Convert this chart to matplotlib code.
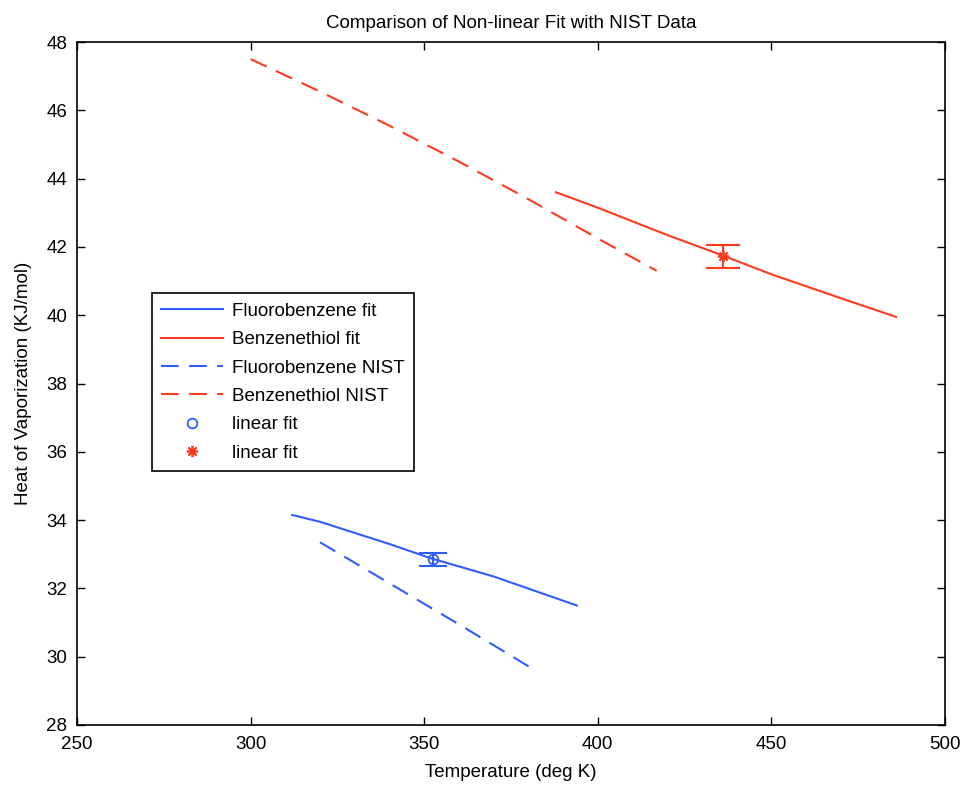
import numpy as np
import matplotlib
matplotlib.use("Agg")
import matplotlib.pyplot as plt

plt.rcParams['font.family'] = ['Liberation Sans', 'DejaVu Sans']

# --- data ---
fluoro_fit_T = [312, 320, 340, 352, 370, 394]
fluoro_fit_H = [34.15, 33.95, 33.3, 32.88, 32.35, 31.5]

benz_fit_T = [388, 400, 420, 436, 450, 470, 486]
benz_fit_H = [43.6, 43.15, 42.35, 41.75, 41.2, 40.5, 39.95]

fluoro_nist_T = [320, 340, 360, 382]
fluoro_nist_H = [33.35, 32.15, 30.95, 29.6]

benz_nist_T = [300, 320, 340, 360, 380, 400, 417]
benz_nist_H = [47.5, 46.55, 45.55, 44.5, 43.4, 42.25, 41.3]

fluoro_lin_T, fluoro_lin_H, fluoro_lin_err = 352.5, 32.85, 0.2
benz_lin_T, benz_lin_H, benz_lin_err = 436, 41.72, 0.33

BLUE = '#2f5cff'
RED = '#ff3a1f'
FS = 13.5

fig = plt.figure(figsize=(9.63, 7.87), dpi=100)
ax = fig.add_axes([0.080, 0.0788, 0.901, 0.8678])

ax.plot(fluoro_fit_T, fluoro_fit_H, '-', color=BLUE, lw=1.5, label='Fluorobenzene fit')
ax.plot(benz_fit_T, benz_fit_H, '-', color=RED, lw=1.5, label='Benzenethiol fit')
ax.plot(fluoro_nist_T, fluoro_nist_H, '--', color=BLUE, lw=1.5, dashes=(8.5, 5), label='Fluorobenzene NIST')
ax.plot(benz_nist_T, benz_nist_H, '--', color=RED, lw=1.5, dashes=(8.5, 5), label='Benzenethiol NIST')

ax.errorbar(fluoro_lin_T, fluoro_lin_H, yerr=fluoro_lin_err, fmt='none', ecolor=BLUE,
            elinewidth=1.5, capsize=10, capthick=1.5)
ax.errorbar(benz_lin_T, benz_lin_H, yerr=benz_lin_err, fmt='none', ecolor=RED,
            elinewidth=1.5, capsize=12.5, capthick=1.5)
ax.plot(fluoro_lin_T, fluoro_lin_H, 'o', mfc='none', mec=BLUE, ms=7, mew=1.3, label='linear fit')
ax.plot(benz_lin_T, benz_lin_H, marker=(8, 2, 0), ls='none', color=RED, ms=8, mew=1.3, label='linear fit')

ax.set_xlim(250, 500)
ax.set_ylim(28, 48)
ax.set_xticks(np.arange(250, 501, 50))
ax.set_yticks(np.arange(28, 49, 2))
ax.tick_params(direction='in', top=True, right=True, length=6, labelsize=FS, width=1)
ax.tick_params(axis='x', pad=8)
ax.tick_params(axis='y', pad=7)
for s in ax.spines.values():
    s.set_linewidth(1.2)

ax.set_title('Comparison of Non-linear Fit with NIST Data', fontsize=FS, pad=10)
ax.set_xlabel('Temperature (deg K)', fontsize=FS, labelpad=8)
ax.set_ylabel('Heat of Vaporization (KJ/mol)', fontsize=FS, labelpad=10)

leg = ax.legend(loc='upper left', bbox_to_anchor=(0.086, 0.632), fontsize=FS,
                fancybox=False, edgecolor='black', framealpha=1, borderpad=0.5,
                handlelength=3.3, handletextpad=0.5, labelspacing=0.6, borderaxespad=0)
leg.get_frame().set_linewidth(1.2)

fig.savefig('out.png', dpi=100)
